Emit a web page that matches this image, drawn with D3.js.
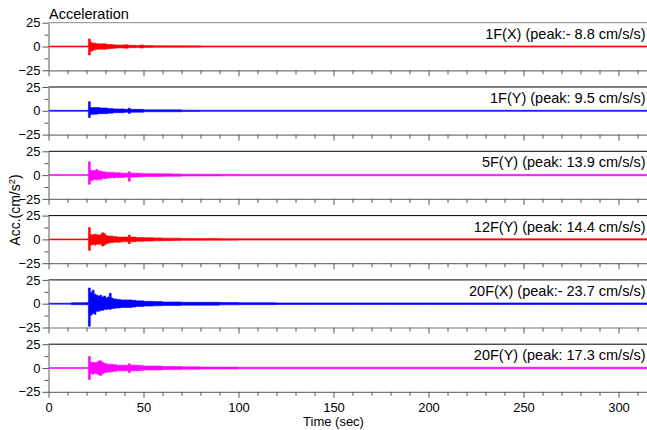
<!DOCTYPE html>
<html>
<head>
<meta charset="utf-8">
<script src="https://cdn.jsdelivr.net/npm/d3@7"></script>
<style>
  body { margin: 0; background: #fff; }
  text { font-family: "Liberation Sans", Arial, sans-serif; fill: #000; }
</style>
</head>
<body>
<div id="chart-area"></div>
<script>
// Envelope (max / min per time bin) of six floor records
var binEdges = [0, 12, 20, 21, 22, 23, 24, 25, 26, 27, 28, 29, 30, 31, 32, 33, 34, 35, 36, 38, 40,
  42, 43, 44, 46, 48, 50, 55, 60, 65, 70, 80, 90, 100, 120, 140, 160, 180, 200, 220, 240, 260, 280, 300, 320];

var channels = ["1F(X)", "1F(Y)", "5F(Y)", "12F(Y)", "20F(X)", "20F(Y)"];
var peaks = [-8.8, 9.5, 13.9, 14.4, -23.7, 17.3];

var upper1 = [0.5, 0.5, 0.6, 8.0, 4.5, 3.5, 3.5, 3, 3, 2.5, 3, 3, 2.5, 2, 2, 2, 1.8, 1.5, 1.5, 1.5, 1.8,
  1.2, 1.2, 1.2, 1, 1.6, 1, 0.9, 0.8, 0.8, 0.7, 0.6, 0.6, 0.6, 0.6, 0.6, 0.6, 0.6, 0.6, 0.6, 0.6, 0.6, 0.6, 0.6];
var lower1 = [-0.5, -0.5, -0.6, -8.8, -5, -4, -3.5, -3, -3, -2.5, -3, -3, -2.5, -2.5, -2, -2, -1.8, -1.8, -1.5, -1.5, -1.8,
  -1.2, -1.2, -1.2, -1, -1.6, -1, -0.9, -0.8, -0.8, -0.7, -0.6, -0.6, -0.6, -0.6, -0.6, -0.6, -0.6, -0.6, -0.6, -0.6, -0.6, -0.6, -0.6];

var upper2 = [0.5, 0.5, 0.6, 9.5, 3.5, 3.5, 3.5, 3.5, 3.5, 3, 3, 3, 3, 2.5, 2.5, 2.5, 2, 2, 2, 2, 1.5,
  2.8, 1.5, 1.5, 1.5, 1.5, 1, 1, 1, 1, 0.7, 0.6, 0.6, 0.6, 0.6, 0.6, 0.6, 0.6, 0.6, 0.6, 0.6, 0.6, 0.6, 0.6];
var lower2 = [-0.5, -0.5, -0.6, -7, -4, -3.5, -3.5, -3.5, -3, -3, -3, -3, -3, -2.5, -2.5, -2.5, -2, -2, -2, -2, -1.5,
  -2.8, -1.5, -1.5, -1.5, -1.5, -1, -1, -1, -1, -0.7, -0.6, -0.6, -0.6, -0.6, -0.6, -0.6, -0.6, -0.6, -0.6, -0.6, -0.6, -0.6, -0.6];

var upper3 = [0.5, 0.5, 0.6, 13.9, 5, 4.5, 5, 6, 4.5, 4, 3.5, 3.5, 3, 3, 3, 3, 2.5, 2.5, 2.5, 2, 2,
  3.5, 2, 2, 2, 1.8, 1.5, 1.5, 1.3, 1.2, 1, 0.9, 0.8, 0.7, 0.7, 0.7, 0.7, 0.7, 0.7, 0.7, 0.7, 0.7, 0.7, 0.7];
var lower3 = [-0.5, -0.5, -0.6, -9.7, -6, -5, -4.5, -5, -4.5, -5, -3.5, -3.5, -3.5, -3, -3, -2.5, -3, -2.5, -2.5, -2.5, -2,
  -6.5, -2, -2, -2, -1.8, -1.5, -1.5, -1.3, -1.2, -1, -0.9, -0.8, -0.7, -0.7, -0.7, -0.7, -0.7, -0.7, -0.7, -0.7, -0.7, -0.7, -0.7];

var upper4 = [0.5, 0.5, 0.6, 12.5, 5, 5, 5.5, 5, 4.5, 5, 7, 6, 4, 3.5, 3.5, 3.5, 3, 3, 2.5, 2.5, 2.5,
  4.5, 2.5, 2.5, 2, 2, 1.8, 1.5, 1.3, 1.2, 1, 0.9, 0.8, 0.7, 0.7, 0.7, 0.7, 0.7, 0.7, 0.7, 0.7, 0.7, 0.7, 0.7];
var lower4 = [-0.5, -0.5, -0.6, -11.5, -6, -5, -6, -5, -5, -5, -7, -6, -4.5, -4, -3.5, -3.5, -3, -3, -3, -2.5, -2.5,
  -4.5, -2.5, -2.5, -2, -2, -1.8, -1.5, -1.3, -1.2, -1, -0.9, -0.8, -0.7, -0.7, -0.7, -0.7, -0.7, -0.7, -0.7, -0.7, -0.7, -0.7, -0.7];

var upper5 = [0.5, 1, 1.2, 16.5, 12, 14, 10, 9, 8, 9, 7, 8, 6, 7, 11, 6, 5, 5, 4.5, 4, 4,
  4, 4, 3.5, 3, 3, 2.5, 2.2, 1.8, 1.8, 1.5, 1.5, 1.2, 1, 0.8, 0.8, 0.8, 0.8, 0.8, 0.8, 0.8, 0.8, 0.8, 0.8];
var lower5 = [-0.5, -1, -1.2, -23.7, -12, -10, -11, -8, -8, -7, -7, -6, -6, -5.5, -6, -5, -5, -4.5, -4.5, -4, -4,
  -4, -4, -3.5, -3, -3, -2.5, -2.2, -1.8, -1.8, -1.5, -1.5, -1.2, -1, -0.8, -0.8, -0.8, -0.8, -0.8, -0.8, -0.8, -0.8, -0.8, -0.8];

var upper6 = [0.5, 0.5, 0.6, 12, 6, 6, 5.5, 6, 7.5, 7.5, 6, 5, 4.5, 4, 4, 4, 3.5, 3.5, 3, 3, 3,
  4.5, 3, 3, 3, 2.5, 2, 2, 1.6, 1.5, 1.2, 1, 1, 0.8, 0.8, 0.8, 0.8, 0.8, 0.8, 0.8, 0.8, 0.8, 0.8, 0.8];
var lower6 = [-0.5, -0.5, -0.6, -12, -6, -6.5, -5.5, -6, -7, -8, -6, -5, -4.5, -4.5, -4, -4, -3.5, -3.5, -3, -3, -3,
  -5, -3, -3, -3, -2.5, -2, -2, -1.6, -1.5, -1.2, -1, -1, -0.8, -0.8, -0.8, -0.8, -0.8, -0.8, -0.8, -0.8, -0.8, -0.8, -0.8];

var uppers = [upper1, upper2, upper3, upper4, upper5, upper6];
var lowers = [lower1, lower2, lower3, lower4, lower5, lower6];
var colors = ["#ff0000", "#0000ff", "#ff00ff", "#ff0000", "#0000ff", "#ff00ff"];

var yTicks = [-25, 0, 25];
var yMinor = [-12.5, 12.5];

var width = 647, height = 430;
var left = 48.5, right = 647;
var firstTop = 22.7, step = 64.3, panelH = 47.6;

var svg = d3.select("#chart-area").append("svg")
  .attr("width", width)
  .attr("height", height);

var x = d3.scaleLinear().domain([0, 320]).range([left, left + 320 * 1.9]);

svg.append("clipPath").attr("id", "plot-clip")
  .append("rect")
  .attr("x", left).attr("y", 0)
  .attr("width", right - left).attr("height", height);

channels.forEach(function(name, i) {
  var top = firstTop + i * step;
  var bottom = top + panelH;
  var y = d3.scaleLinear().domain([-25, 25]).range([bottom, top]);

  var g = svg.append("g");

  // bins -> step points
  var pts = binEdges.slice(0, -1).map(function(t, k) {
    return { t: t, hi: uppers[i][k], lo: lowers[i][k] };
  });
  var last = pts[pts.length - 1];
  pts.push({ t: binEdges[binEdges.length - 1], hi: last.hi, lo: last.lo });

  var area = d3.area()
    .curve(d3.curveStepAfter)
    .x(function(d) { return x(d.t); })
    .y0(function(d) { return y(d.lo); })
    .y1(function(d) { return y(d.hi); });

  g.append("path")
    .datum(pts)
    .attr("clip-path", "url(#plot-clip)")
    .attr("d", area)
    .attr("fill", colors[i])
    .attr("stroke", colors[i])
    .attr("stroke-width", 0.6);

  // top border
  g.append("line")
    .attr("x1", left).attr("x2", right)
    .attr("y1", top).attr("y2", top)
    .attr("stroke", i == 0 ? "#888" : "#000")
    .attr("stroke-width", 1);

  // left axis
  g.append("g")
    .attr("transform", "translate(" + left + ",0)")
    .call(d3.axisLeft(y).tickValues(yTicks).tickSize(6).tickPadding(2).tickSizeOuter(0));
  g.append("g")
    .attr("transform", "translate(" + left + ",0)")
    .call(d3.axisLeft(y).tickValues(yMinor).tickSize(4).tickFormat("").tickSizeOuter(0))
    .select(".domain").remove();

  // bottom axis
  var minorX = d3.range(0, 321, 10).filter(function(v) { return v % 50 != 0; });
  g.append("g")
    .attr("transform", "translate(0," + bottom + ")")
    .call(d3.axisBottom(x).tickValues(d3.range(0, 301, 50)).tickSize(6).tickPadding(5).tickSizeOuter(0)
      .tickFormat(i == channels.length - 1 ? d3.format("d") : ""));
  g.append("g")
    .attr("transform", "translate(0," + bottom + ")")
    .call(d3.axisBottom(x).tickValues(minorX).tickSize(4).tickFormat("").tickSizeOuter(0))
    .select(".domain").remove();

  g.selectAll(".domain").attr("stroke", "#777").attr("stroke-width", 1.2);
  g.selectAll(".tick line").attr("stroke", "#555");
  g.selectAll(".tick text")
    .style("font-family", "'Liberation Sans', Arial, sans-serif")
    .style("font-size", "13px");

  var pv = peaks[i];
  var peakText = pv < 0 ? "peak:- " + Math.abs(pv) : "peak: " + pv;
  g.append("text")
    .attr("x", 645.5)
    .attr("y", top + 16)
    .attr("text-anchor", "end")
    .style("font-size", "14.5px")
    .text(name + " (" + peakText + " cm/s/s)");
});

svg.append("text")
  .attr("x", 49)
  .attr("y", 18.5)
  .style("font-size", "14.5px")
  .text("Acceleration");

var yt = svg.append("text")
  .attr("transform", "translate(19.5,210) rotate(-90)")
  .attr("text-anchor", "middle")
  .style("font-size", "14px");
yt.append("tspan").text("Acc.(cm/s");
yt.append("tspan").attr("dy", -5).style("font-size", "9.5px").text("2");
yt.append("tspan").attr("dy", 5).text(")");

svg.append("text")
  .attr("x", x(150))
  .attr("y", 426)
  .attr("text-anchor", "middle")
  .style("font-size", "13px")
  .text("Time (sec)");
</script>
</body>
</html>
